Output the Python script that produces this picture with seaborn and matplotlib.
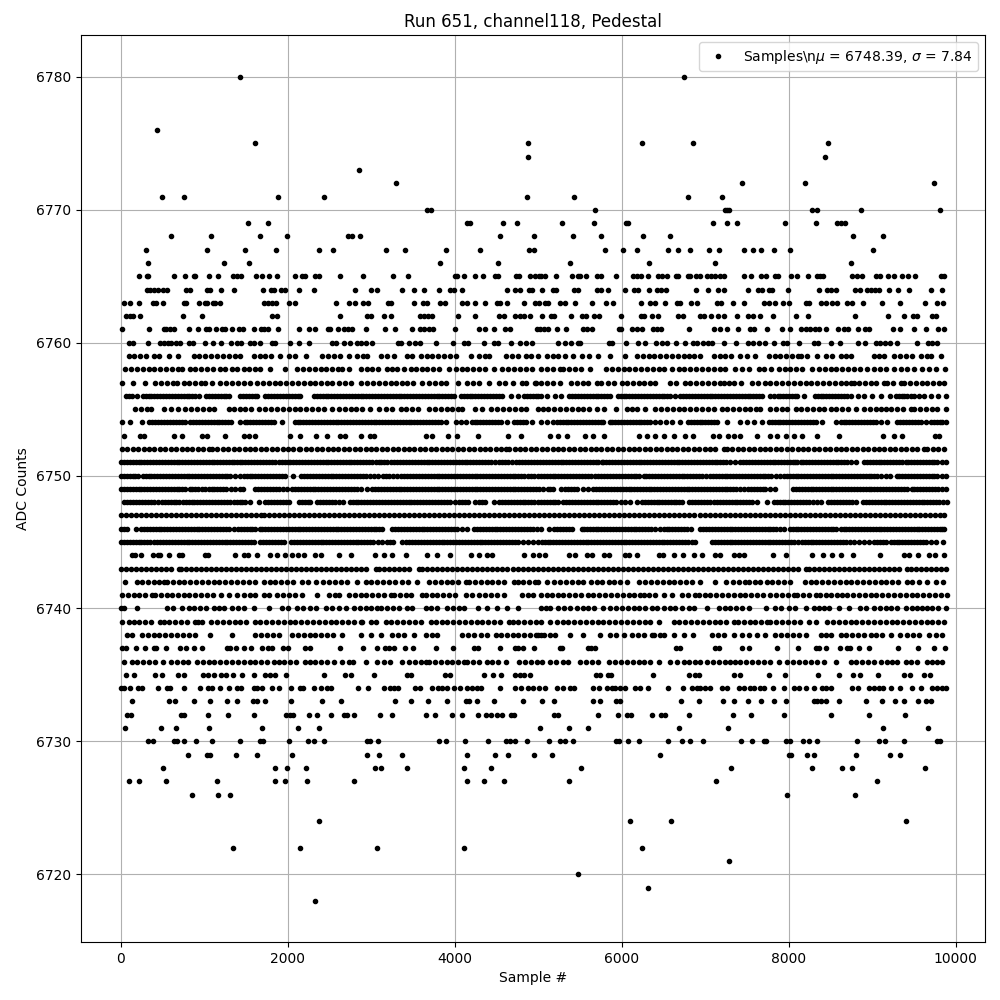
import matplotlib
matplotlib.use("Agg")
import matplotlib.pyplot as plt
import pandas as pd
import seaborn as sns

title = "Run 651, channel118, Pedestal"
xlabel = "Sample #"
ylabel = "ADC Counts"
legend_label = r"Samples\n$\mu$ = 6748.39, $\sigma$ = 7.84"

# Sample numbers, one list per ADC level
adc_6780 = [1422, 6740]
adc_6776 = [426]
adc_6775 = [1602, 4878, 6236, 6848, 8468]
adc_6774 = [4878, 8432]
adc_6773 = [2850]
adc_6772 = [3294, 7436, 8192, 9740]
adc_6771 = [486, 750, 1878, 2430, 4866, 5432, 6788, 7196]
adc_6770 = [3670, 3710, 5684, 7232, 7264, 7288, 8272, 8336, 8864, 9812]
adc_6769 = [1518, 1758, 4150, 4182, 4578, 4746, 5288, 5672, 6052, 6076, 7088, 7256, 7376, 7952, 8324, 8576, 8628, 8672]
adc_6768 = [594, 1074, 1662, 1986, 2718, 2766, 2862, 4542, 4952, 5420, 5756, 6248, 6572, 8768, 9128]
adc_6767 = [294, 1026, 1482, 1854, 2370, 2538, 3174, 3402, 3894, 4302, 4890, 4945, 5792, 6008, 6176, 6548, 6668, 6812, 7040, 7160, 7460, 7568, 7664, 7820, 8012, 9008]
adc_6766 = [318, 1230, 1530, 3822, 4518, 5384, 6320, 7112, 8744]
adc_6765 = [210, 306, 322, 630, 762, 870, 882, 1050, 1158, 1338, 1386, 1434, 1614, 1686, 1770, 1866, 2082, 2166, 2202, 2322, 2370, 2622, 2898, 3258, 3434, 4002, 4030, 4110, 4242, 4338, 4482, 4518, 4734, 4770, 4902, 4962, 5010, 5036, 5080, 5216, 5408, 5480, 5504, 5576, 5708, 5756, 5924, 6128, 6176, 6224, 6308, 6428, 6476, 6536, 6644, 6668, 6788, 6812, 6884, 6932, 7016, 7064, 7112, 7172, 7220, 7460, 7544, 7664, 7724, 7832, 7868, 8024, 8096, 8228, 8336, 8372, 8408, 8756, 8816, 8876, 9044, 9092, 9188, 9260, 9356, 9428, 9512, 9824, 9860]
adc_6764 = [306, 342, 390, 438, 498, 546, 774, 822, 1026, 1062, 1194, 1350, 1698, 1794, 1830, 1914, 1962, 2130, 2310, 2802, 2994, 3066, 3366, 3510, 3630, 3810, 3942, 3990, 4086, 4626, 4722, 4782, 4890, 4926, 5040, 5180, 5216, 5432, 5480, 5708, 5756, 5828, 6032, 6140, 6188, 6320, 6416, 6464, 6524, 6884, 7028, 7148, 7220, 7508, 7628, 7676, 7760, 7796, 7988, 8360, 8456, 8504, 8564, 8792, 8852, 8936, 8984, 9032, 9080, 9200, 9308, 9440, 9704, 9836]
adc_6763 = [42, 102, 210, 378, 414, 498, 750, 774, 930, 1002, 1026, 1098, 1122, 1182, 1710, 1758, 1806, 1854, 2010, 2082, 2574, 2730, 2802, 2898, 2958, 3198, 3234, 3510, 3618, 3666, 3822, 3882, 4086, 4146, 4242, 4362, 4506, 4542, 4626, 4830, 4962, 5012, 5084, 5120, 5264, 5324, 5444, 5648, 5804, 5888, 6224, 6332, 6392, 6512, 6656, 6692, 6824, 6896, 7136, 7184, 7328, 7460, 7700, 7760, 7832, 7928, 8000, 8204, 8240, 8384, 8444, 8516, 8576, 8696, 8756, 8888, 9116, 9332, 9632, 9776, 9848]
adc_6762 = [66, 102, 138, 222, 738, 966, 1806, 1866, 2622, 2946, 2994, 3150, 3234, 3582, 3630, 3678, 3726, 4038, 4242, 4530, 4590, 4722, 4782, 4830, 4900, 5040, 5156, 5192, 5396, 5528, 5576, 5672, 5732, 5984, 6224, 6260, 6356, 6428, 6668, 6728, 6932, 6980, 7064, 7148, 7220, 7376, 7508, 7568, 7652, 7808, 8084, 8228, 8792, 9188, 9380, 9488, 9536, 9716, 9764]
adc_6761 = [18, 330, 510, 534, 582, 630, 810, 918, 1014, 1050, 1134, 1206, 1242, 1326, 1410, 1458, 1590, 1674, 1710, 1758, 1878, 2130, 2250, 2322, 2478, 2502, 2598, 2670, 2718, 2766, 2934, 3162, 3282, 3486, 3582, 3630, 3690, 3738, 4002, 4290, 4362, 4470, 4602, 4662, 4986, 5024, 5072, 5120, 5228, 5336, 5540, 5588, 5648, 5960, 5984, 6116, 6176, 6236, 6368, 6416, 6464, 6800, 7100, 7172, 7256, 7388, 7532, 7580, 7736, 7916, 8012, 8144, 8204, 8252, 8312, 8360, 8444, 8588, 8660, 8708, 8828, 8912, 8960, 9248, 9332, 9500, 9644, 9788, 9860]
adc_6760 = [90, 138, 318, 462, 510, 558, 594, 654, 702, 810, 858, 1002, 1098, 1194, 1314, 1386, 1434, 1542, 1590, 1662, 1806, 1842, 2022, 2130, 2250, 2526, 2574, 2670, 2742, 2826, 2874, 2934, 3006, 3318, 3354, 3450, 3522, 3582, 3774, 3978, 4110, 4158, 4350, 4470, 4518, 4674, 4782, 4854, 4926, 5240, 5324, 5396, 5480, 5504, 5840, 5876, 6044, 6188, 6272, 6404, 6476, 6536, 6644, 6752, 6848, 6896, 6968, 7028, 7076, 7220, 7364, 7508, 7568, 7640, 7712, 7820, 7928, 7976, 8120, 8300, 8348, 8504, 8612, 8828, 8912, 9044, 9092, 9152, 9212, 9296, 9536, 9668, 9716, 9776]
adc_6759 = [90, 160, 230, 300, 390, 450, 570, 678, 870, 940, 1010, 1080, 1150, 1220, 1290, 1360, 1430, 1590, 1660, 1730, 1800, 1910, 2010, 2082, 2214, 2410, 2480, 2550, 2620, 2730, 2830, 2900, 2950, 3110, 3190, 3270, 3430, 3490, 3590, 3660, 3730, 3800, 3870, 3940, 4010, 4190, 4290, 4360, 4410, 4610, 4680, 4750, 4850, 4910, 4990, 5100, 5170, 5240, 5320, 5420, 5520, 5612, 5720, 5860, 6032, 6180, 6250, 6320, 6390, 6460, 6530, 6600, 6670, 6740, 6810, 6860, 6940, 7100, 7170, 7240, 7310, 7420, 7500, 7592, 7760, 7830, 7900, 7970, 8040, 8110, 8140, 8220, 8340, 8440, 8520, 8620, 8680, 8740, 9020, 9080, 9140, 9260, 9330, 9400, 9470, 9580, 9660, 9700, 9828]
adc_6758 = [50, 120, 190, 260, 330, 400, 470, 540, 610, 680, 730, 822, 892, 962, 1032, 1102, 1190, 1250, 1330, 1390, 1470, 1530, 1600, 1670, 1790, 1970, 2110, 2180, 2250, 2320, 2390, 2460, 2530, 2600, 2650, 2730, 2870, 2950, 3010, 3080, 3190, 3250, 3310, 3390, 3470, 3530, 3600, 3670, 3740, 3810, 3930, 4010, 4080, 4150, 4220, 4290, 4360, 4470, 4570, 4640, 4710, 4780, 4850, 4920, 5030, 5100, 5170, 5260, 5300, 5370, 5440, 5510, 5620, 5812, 5880, 5950, 6020, 6090, 6160, 6230, 6300, 6370, 6440, 6510, 6600, 6680, 6740, 6820, 6890, 6960, 7030, 7100, 7170, 7240, 7360, 7440, 7520, 7640, 7700, 7788, 7880, 7950, 8020, 8090, 8160, 8280, 8360, 8430, 8500, 8570, 8640, 8710, 8780, 8850, 8940, 9020, 9090, 9160, 9260, 9340, 9420, 9500, 9600, 9680, 9768, 9872]
adc_6757 = [18, 138, 282, 410, 480, 550, 620, 670, 750, 810, 890, 960, 1010, 1090, 1190, 1260, 1330, 1400, 1470, 1550, 1630, 1700, 1770, 1840, 1910, 1980, 2050, 2120, 2190, 2260, 2330, 2400, 2470, 2530, 2610, 2680, 2750, 2870, 2950, 3020, 3090, 3160, 3230, 3300, 3370, 3430, 3500, 3610, 3690, 3760, 3830, 3890, 4038, 4150, 4220, 4290, 4410, 4530, 4600, 4690, 4798, 4850, 4970, 5030, 4960, 5100, 5170, 5260, 5388, 5460, 5530, 5600, 5700, 5752, 5830, 5900, 6000, 6060, 6130, 6200, 6270, 6340, 6400, 6580, 6650, 6760, 6820, 6890, 6960, 7030, 7100, 7170, 7220, 7280, 7340, 7428, 7560, 7630, 7720, 7780, 7850, 7920, 7990, 8060, 8130, 8200, 8270, 8340, 8410, 8480, 8550, 8620, 8690, 8740, 8780, 8840, 8910, 8980, 9050, 9140, 9180, 9250, 9340, 9380, 9450, 9520, 9590, 9660, 9730, 9800, 9860]
adc_6756 = [62, 130, 190, 260, 330, 400, 470, 540, 610, 680, 750, 820, 890, 930, 1022, 1092, 1162, 1232, 1290, 1430, 1500, 1570, 1630, 1730, 1800, 1870, 1940, 2010, 2080, 2150, 2310, 2380, 2450, 2520, 2590, 2660, 2730, 2800, 2870, 2940, 3010, 3080, 3150, 3220, 3290, 3360, 3430, 3500, 3570, 3640, 3710, 3780, 3850, 3920, 3990, 4070, 4140, 4210, 4280, 4350, 4420, 4490, 4560, 4670, 4750, 4830, 4900, 4970, 5030, 5100, 5200, 5272, 5372, 5440, 5510, 5580, 5650, 5720, 5790, 5860, 5948, 6020, 6090, 6160, 6230, 6300, 6370, 6440, 6510, 6580, 6640, 6700, 6770, 6840, 6910, 6980, 7050, 7120, 7190, 7260, 7330, 7400, 7470, 7540, 7610, 7680, 7780, 7828, 7900, 7970, 8040, 8100, 8180, 8308, 8380, 8450, 8520, 8590, 8660, 8740, 8828, 8900, 9000, 9100, 9212, 9280, 9350, 9420, 9500, 9560, 9620, 9700, 9790, 9880]
adc_6755 = [170, 240, 310, 360, 520, 600, 680, 770, 840, 910, 980, 1050, 1110, 1290, 1350, 1420, 1490, 1560, 1650, 1730, 1800, 1870, 1940, 2010, 2080, 2150, 2220, 2290, 2360, 2430, 2530, 2610, 2680, 2750, 2820, 2890, 2980, 3090, 3170, 3250, 3350, 3420, 3490, 3560, 3690, 3760, 3830, 3900, 3970, 4040, 4090, 4238, 4320, 4438, 4510, 4580, 4650, 4720, 4790, 4850, 4990, 5050, 5120, 5190, 5260, 5330, 5400, 5470, 5540, 5610, 5700, 5788, 5932, 6060, 6120, 6180, 6272, 6400, 6470, 6540, 6610, 6680, 6750, 6820, 6890, 6960, 7030, 7100, 7200, 7260, 7330, 7400, 7470, 7540, 7610, 7660, 7780, 7850, 7920, 7980, 8080, 8150, 8220, 8290, 8360, 8420, 8500, 8570, 8640, 8710, 8800, 8900, 8970, 9040, 9100, 9170, 9220, 9300, 9370, 9460, 9500, 9570, 9640, 9710, 9780, 9880]
adc_6754 = [18, 110, 250, 340, 410, 480, 550, 620, 690, 770, 830, 900, 970, 1040, 1110, 1180, 1250, 1320, 1430, 1480, 1550, 1620, 1690, 1760, 1830, 1930, 2080, 2150, 2220, 2290, 2360, 2430, 2500, 2570, 2640, 2710, 2780, 2850, 2920, 2990, 3060, 3130, 3200, 3270, 3340, 3410, 3480, 3550, 3620, 3690, 3760, 3830, 3890, 4010, 4070, 4130, 4202, 4270, 4340, 4410, 4480, 4550, 4630, 4710, 4780, 4850, 4920, 5030, 5100, 5180, 5220, 5290, 5360, 5430, 5500, 5570, 5640, 5710, 5780, 5852, 5920, 5990, 6060, 6130, 6200, 6270, 6340, 6400, 6460, 6530, 6600, 6700, 6788, 6860, 6930, 7000, 7070, 7140, 7260, 7412, 7500, 7580, 7680, 7760, 7830, 7900, 7970, 8040, 8110, 8180, 8250, 8320, 8400, 8560, 8620, 8690, 8760, 8830, 8900, 8970, 9040, 9100, 9180, 9300, 9370, 9440, 9510, 9580, 9640, 9700, 9770, 9840, 9880]
adc_6753 = [38, 230, 278, 638, 730, 970, 1030, 1250, 1470, 1530, 1610, 2030, 2150, 2342, 2470, 2622, 2678, 2878, 2982, 3030, 3650, 3730, 3918, 4026, 4282, 4638, 4790, 5140, 5240, 5340, 5560, 5660, 5788, 6200, 6300, 6400, 6500, 6620, 6752, 6848, 7088, 7160, 7268, 7340, 7420, 7620, 7772, 7860, 7968, 8060, 8160, 8340, 8600, 9128, 9260, 9360, 9748, 9800]
adc_6752 = [10, 75, 140, 205, 270, 335, 400, 465, 530, 595, 660, 725, 790, 855, 920, 985, 1050, 1090, 1155, 1220, 1285, 1350, 1415, 1480, 1545, 1610, 1675, 1740, 1805, 1870, 1935, 2000, 2065, 2130, 2150, 2215, 2280, 2345, 2410, 2475, 2540, 2605, 2670, 2735, 2800, 2865, 2930, 2995, 3060, 3125, 3190, 3255, 3320, 3385, 3450, 3515, 3580, 3645, 3710, 3775, 3840, 3905, 3970, 4035, 4100, 4165, 4230, 4295, 4360, 4425, 4490, 4555, 4610, 4650, 4715, 4780, 4845, 4910, 4975, 5040, 5105, 5170, 5235, 5300, 5365, 5430, 5495, 5560, 5625, 5690, 5755, 5820, 5885, 5950, 6015, 6080, 6145, 6210, 6275, 6340, 6405, 6470, 6535, 6600, 6665, 6730, 6795, 6860, 6925, 6990, 7055, 7120, 7220, 7260, 7325, 7390, 7455, 7520, 7585, 7650, 7715, 7780, 7845, 7910, 7975, 8040, 8105, 8170, 8235, 8300, 8365, 8430, 8495, 8560, 8625, 8690, 8755, 8820, 8885, 8950, 9015, 9080, 9145, 9210, 9275, 9340, 9405, 9470, 9535, 9620, 9660, 9725, 9790, 9860]
adc_6751 = [0, 70, 140, 210, 280, 350, 420, 490, 560, 630, 700, 770, 840, 910, 980, 1050, 1120, 1190, 1260, 1330, 1350, 1420, 1490, 1560, 1630, 1700, 1770, 1850, 1890, 1960, 2030, 2100, 2170, 2240, 2310, 2380, 2450, 2520, 2590, 2660, 2730, 2790, 2830, 2900, 2970, 3010, 3050, 3120, 3190, 3240, 3310, 3380, 3450, 3520, 3590, 3660, 3730, 3800, 3870, 3940, 4010, 4080, 4150, 4220, 4290, 4360, 4430, 4530, 4570, 4640, 4730, 4770, 4840, 4910, 4980, 5060, 5090, 5160, 5230, 5300, 5370, 5440, 5510, 5580, 5650, 5720, 5760, 5780, 5850, 5920, 5990, 6060, 6130, 6200, 6270, 6340, 6410, 6480, 6550, 6620, 6690, 6760, 6830, 6900, 6970, 7040, 7110, 7180, 7250, 7360, 7420, 7490, 7560, 7630, 7700, 7770, 7840, 7910, 7980, 8050, 8100, 8140, 8210, 8280, 8350, 8420, 8490, 8560, 8630, 8700, 8800, 8900, 8970, 9040, 9110, 9180, 9250, 9320, 9400, 9430, 9500, 9570, 9640, 9710, 9780, 9880]
adc_6750 = [0, 70, 140, 200, 260, 330, 400, 470, 540, 610, 680, 750, 820, 890, 960, 1030, 1100, 1170, 1240, 1310, 1430, 1470, 1540, 1610, 1680, 1750, 1820, 1890, 1970, 2060, 2160, 2230, 2300, 2370, 2440, 2510, 2580, 2650, 2720, 2790, 2860, 2930, 3030, 3080, 3140, 3210, 3310, 3360, 3430, 3500, 3570, 3640, 3710, 3780, 3850, 3920, 3990, 4060, 4130, 4200, 4270, 4340, 4410, 4480, 4550, 4620, 4690, 4760, 4830, 4880, 4950, 5030, 5100, 5170, 5240, 5310, 5380, 5450, 5520, 5590, 5680, 5720, 5790, 5860, 5930, 6000, 6070, 6140, 6200, 6260, 6330, 6400, 6470, 6540, 6610, 6680, 6750, 6820, 6890, 6960, 7060, 7090, 7160, 7230, 7300, 7370, 7440, 7510, 7580, 7650, 7720, 7790, 7900, 7940, 8010, 8080, 8150, 8220, 8290, 8360, 8430, 8500, 8570, 8640, 8710, 8780, 8850, 8920, 8990, 9060, 9160, 9210, 9290, 9360, 9430, 9500, 9570, 9640, 9710, 9780, 9880]
adc_6749 = [0, 70, 140, 210, 280, 350, 420, 490, 560, 630, 700, 770, 830, 850, 920, 1010, 1050, 1120, 1190, 1260, 1370, 1420, 1460, 1610, 1680, 1750, 1820, 1890, 1990, 2050, 2120, 2190, 2260, 2330, 2400, 2470, 2540, 2610, 2680, 2750, 2830, 2880, 2950, 3010, 3080, 3150, 3220, 3290, 3360, 3430, 3500, 3570, 3640, 3710, 3780, 3850, 3920, 3990, 4060, 4130, 4200, 4270, 4340, 4410, 4480, 4550, 4620, 4690, 4760, 4830, 4900, 4970, 5050, 5110, 5180, 5270, 5320, 5390, 5460, 5540, 5600, 5660, 5730, 5800, 5870, 5940, 6010, 6080, 6150, 6220, 6290, 6320, 6390, 6460, 6530, 6600, 6670, 6740, 6810, 6880, 6950, 7020, 7090, 7160, 7230, 7300, 7370, 7460, 7510, 7580, 7650, 7720, 7840, 8050, 8120, 8190, 8260, 8330, 8400, 8430, 8500, 8570, 8640, 8710, 8780, 8850, 8920, 8990, 9060, 9130, 9200, 9270, 9340, 9420, 9470, 9540, 9610, 9680, 9720, 9790, 9880]
adc_6748 = [40, 110, 180, 250, 320, 390, 440, 490, 560, 630, 690, 740, 810, 880, 950, 1020, 1090, 1160, 1230, 1310, 1350, 1420, 1490, 1550, 1650, 1730, 1800, 1870, 1940, 2010, 2130, 2200, 2270, 2350, 2420, 2490, 2560, 2660, 2740, 2810, 2880, 2950, 3020, 3090, 3160, 3230, 3270, 3340, 3410, 3480, 3550, 3620, 3690, 3730, 3800, 3870, 3940, 4050, 4090, 4160, 4240, 4290, 4360, 4470, 4530, 4600, 4670, 4740, 4810, 4880, 4950, 5030, 5100, 5170, 5240, 5300, 5370, 5440, 5510, 5580, 5650, 5720, 5790, 5860, 5930, 6040, 6100, 6180, 6240, 6310, 6380, 6450, 6520, 6590, 6650, 6720, 6810, 6880, 6950, 7020, 7100, 7140, 7210, 7280, 7350, 7420, 7490, 7560, 7620, 7740, 7820, 7890, 7960, 8030, 8100, 8170, 8240, 8340, 8390, 8470, 8540, 8610, 8680, 8760, 8800, 8890, 8960, 9030, 9100, 9170, 9240, 9310, 9380, 9450, 9520, 9590, 9660, 9730, 9800, 9890]
adc_6747 = [0, 60, 120, 180, 240, 300, 360, 420, 480, 540, 600, 660, 720, 780, 840, 900, 960, 1020, 1080, 1140, 1200, 1260, 1320, 1380, 1440, 1500, 1560, 1620, 1680, 1710, 1770, 1830, 1890, 1950, 2010, 2070, 2130, 2190, 2250, 2310, 2370, 2430, 2490, 2550, 2610, 2670, 2730, 2790, 2850, 2910, 2970, 3030, 3090, 3150, 3210, 3270, 3330, 3390, 3450, 3510, 3570, 3630, 3690, 3750, 3810, 3870, 3930, 3990, 4050, 4110, 4170, 4230, 4290, 4350, 4410, 4470, 4530, 4590, 4650, 4710, 4770, 4830, 4890, 4950, 5010, 5070, 5130, 5190, 5250, 5310, 5370, 5430, 5490, 5550, 5610, 5670, 5730, 5790, 5850, 5910, 5970, 6030, 6090, 6150, 6210, 6270, 6330, 6390, 6450, 6510, 6570, 6630, 6690, 6750, 6810, 6870, 6930, 6990, 7050, 7110, 7170, 7230, 7290, 7350, 7410, 7470, 7530, 7590, 7650, 7710, 7770, 7830, 7890, 7950, 8010, 8070, 8130, 8190, 8250, 8310, 8370, 8430, 8490, 8550, 8610, 8670, 8730, 8790, 8850, 8910, 8970, 9030, 9090, 9150, 9210, 9270, 9330, 9390, 9450, 9510, 9570, 9630, 9690, 9750, 9810, 9860]
adc_6746 = [0, 70, 180, 240, 310, 380, 450, 520, 590, 660, 730, 800, 870, 940, 1010, 1080, 1150, 1220, 1290, 1350, 1400, 1470, 1540, 1610, 1660, 1730, 1800, 1870, 1940, 2010, 2080, 2150, 2220, 2290, 2360, 2430, 2500, 2570, 2640, 2710, 2780, 2850, 2920, 2990, 3060, 3130, 3250, 3320, 3390, 3460, 3530, 3600, 3670, 3740, 3810, 3880, 3950, 4020, 4150, 4230, 4300, 4370, 4440, 4510, 4580, 4650, 4720, 4790, 4860, 4930, 5030, 5130, 5190, 5260, 5330, 5400, 5520, 5580, 5650, 5720, 5790, 5860, 5930, 6000, 6070, 6140, 6210, 6280, 6350, 6460, 6500, 6570, 6640, 6710, 6780, 6830, 6940, 7010, 7080, 7150, 7220, 7290, 7360, 7430, 7500, 7570, 7640, 7710, 7780, 7850, 7940, 8010, 8080, 8150, 8220, 8290, 8360, 8430, 8500, 8560, 8620, 8690, 8760, 8830, 8900, 8970, 9040, 9110, 9180, 9250, 9320, 9390, 9460, 9530, 9600, 9670, 9740, 9810, 9860]
adc_6745 = [0, 70, 140, 210, 280, 350, 400, 470, 540, 610, 680, 750, 820, 890, 960, 1030, 1100, 1170, 1240, 1310, 1380, 1450, 1520, 1590, 1670, 1740, 1810, 1880, 1950, 2040, 2110, 2180, 2250, 2320, 2390, 2460, 2530, 2600, 2670, 2740, 2810, 2880, 2950, 3020, 3130, 3190, 3260, 3370, 3420, 3490, 3560, 3630, 3700, 3770, 3840, 3910, 3980, 4050, 4120, 4190, 4260, 4330, 4400, 4470, 4540, 4610, 4680, 4750, 4870, 4930, 4990, 5040, 5110, 5180, 5250, 5320, 5390, 5460, 5530, 5600, 5670, 5740, 5810, 5880, 5950, 6020, 6090, 6160, 6230, 6300, 6370, 6440, 6510, 6580, 6650, 6720, 6790, 6880, 7080, 7150, 7220, 7290, 7360, 7430, 7500, 7570, 7640, 7710, 7780, 7850, 7920, 7990, 8060, 8160, 8190, 8260, 8330, 8400, 8470, 8540, 8610, 8680, 8780, 8840, 8960, 9020, 9090, 9160, 9220, 9290, 9360, 9430, 9500, 9570, 9640, 9760, 9850]
adc_6744 = [130, 170, 240, 380, 440, 470, 580, 690, 730, 1010, 1040, 1360, 1470, 1520, 1630, 1780, 1870, 1970, 2050, 2120, 2190, 2330, 2390, 2610, 2750, 3040, 3150, 3250, 3410, 3660, 3780, 3940, 4190, 4290, 4390, 4450, 4830, 4930, 5010, 5080, 5370, 5440, 5580, 5640, 5790, 5840, 6040, 6080, 6180, 6440, 6490, 6630, 6730, 6860, 6960, 7120, 7180, 7340, 7400, 7460, 7810, 7970, 8280, 8410, 8520, 8620, 8770, 9090, 9380, 9440, 9550, 9680, 9750, 9860]
adc_6743 = [0, 60, 120, 180, 240, 300, 360, 420, 480, 540, 600, 690, 720, 780, 840, 900, 960, 1020, 1080, 1140, 1200, 1260, 1320, 1380, 1440, 1500, 1560, 1620, 1680, 1740, 1800, 1860, 1920, 1980, 2040, 2100, 2160, 2220, 2280, 2340, 2400, 2460, 2520, 2580, 2640, 2700, 2760, 2820, 2880, 2940, 3050, 3090, 3150, 3210, 3270, 3330, 3390, 3450, 3570, 3610, 3670, 3730, 3790, 3850, 3910, 3970, 4030, 4090, 4150, 4210, 4270, 4330, 4390, 4450, 4510, 4570, 4630, 4690, 4750, 4810, 4870, 4930, 4990, 5050, 5110, 5170, 5230, 5290, 5350, 5410, 5470, 5530, 5590, 5650, 5710, 5770, 5830, 5890, 5950, 6010, 6070, 6130, 6190, 6250, 6310, 6370, 6430, 6490, 6550, 6610, 6670, 6730, 6790, 6850, 6910, 6970, 7030, 7090, 7150, 7210, 7270, 7330, 7390, 7450, 7510, 7570, 7630, 7690, 7750, 7810, 7870, 7930, 7990, 8050, 8110, 8200, 8240, 8300, 8360, 8420, 8480, 8540, 8600, 8660, 8720, 8780, 8840, 8900, 8960, 9020, 9080, 9140, 9200, 9260, 9320, 9420, 9460, 9520, 9580, 9640, 9700, 9760, 9820, 9880]
adc_6742 = [50, 190, 250, 320, 390, 450, 510, 550, 620, 690, 760, 830, 900, 970, 1040, 1110, 1180, 1250, 1320, 1390, 1460, 1530, 1600, 1710, 1780, 1850, 1920, 1990, 2060, 2170, 2240, 2340, 2420, 2490, 2560, 2630, 2710, 2830, 2930, 3000, 3070, 3140, 3210, 3280, 3370, 3440, 3550, 3690, 3760, 3830, 3900, 3970, 4040, 4130, 4170, 4240, 4310, 4380, 4450, 4520, 4590, 4710, 4750, 4820, 4890, 4960, 5000, 5100, 5190, 5260, 5330, 5400, 5480, 5540, 5630, 5700, 5760, 5840, 5910, 5980, 6060, 6210, 6280, 6350, 6420, 6490, 6560, 6620, 6700, 6770, 6840, 6930, 7110, 7250, 7330, 7400, 7470, 7520, 7590, 7660, 7740, 7800, 7870, 7940, 8020, 8190, 8260, 8330, 8400, 8470, 8540, 8610, 8680, 8750, 8820, 8890, 8960, 9030, 9100, 9170, 9240, 9310, 9420, 9480, 9560, 9660, 9760, 9850]
adc_6741 = [10, 80, 150, 220, 290, 370, 410, 480, 550, 610, 680, 750, 820, 890, 960, 1030, 1100, 1200, 1290, 1390, 1470, 1540, 1610, 1710, 1770, 1870, 1940, 2010, 2080, 2170, 2350, 2490, 2560, 2610, 2730, 2800, 2870, 2940, 3010, 3080, 3150, 3230, 3270, 3340, 3410, 3480, 3610, 3650, 3720, 3790, 3860, 3930, 4000, 4130, 4210, 4290, 4360, 4430, 4500, 4590, 4800, 4870, 4940, 5030, 5100, 5160, 5230, 5300, 5370, 5440, 5510, 5600, 5660, 5730, 5800, 5870, 5940, 6010, 6080, 6150, 6220, 6260, 6330, 6400, 6500, 6600, 6720, 6790, 6880, 6920, 6990, 7060, 7130, 7200, 7270, 7340, 7410, 7480, 7550, 7620, 7690, 7780, 7850, 7920, 7990, 8060, 8100, 8170, 8240, 8320, 8370, 8440, 8510, 8580, 8640, 8700, 8770, 8840, 8910, 8980, 9050, 9120, 9190, 9260, 9330, 9400, 9470, 9540, 9610, 9680, 9750, 9820, 9900]
adc_6740 = [0, 40, 190, 550, 620, 730, 810, 880, 950, 1020, 1110, 1180, 1230, 1330, 1400, 1470, 1590, 1770, 1930, 2000, 2110, 2180, 2270, 2340, 2450, 2530, 2610, 2700, 2790, 2860, 2930, 3000, 3070, 3120, 3190, 3260, 3330, 3430, 3490, 3650, 3710, 3780, 3910, 3980, 4050, 4110, 4280, 4390, 4510, 4630, 4750, 5030, 5090, 5140, 5240, 5310, 5380, 5460, 5530, 5600, 5670, 5780, 5860, 5930, 6000, 6070, 6140, 6210, 6280, 6360, 6420, 6500, 6580, 6640, 6720, 6800, 6860, 7020, 7160, 7230, 7300, 7370, 7440, 7520, 7730, 7840, 7910, 8000, 8070, 8200, 8300, 8360, 8420, 8480, 8600, 8720, 8850, 8920, 9020, 9090, 9160, 9220, 9300, 9400, 9470, 9540, 9600, 9660, 9720, 9790, 9880]
adc_6739 = [10, 90, 150, 220, 290, 360, 470, 510, 580, 650, 720, 790, 890, 920, 970, 1080, 1150, 1220, 1290, 1360, 1430, 1500, 1610, 1670, 1740, 1810, 1880, 1950, 2020, 2090, 2160, 2230, 2300, 2370, 2440, 2510, 2580, 2650, 2720, 2790, 2870, 2890, 2990, 3060, 3170, 3240, 3310, 3380, 3450, 3520, 3590, 3710, 3770, 3840, 3910, 3980, 4050, 4120, 4190, 4260, 4330, 4400, 4470, 4540, 4650, 4690, 4760, 4830, 4900, 4970, 5030, 5140, 5220, 5290, 5360, 5430, 5500, 5570, 5640, 5720, 5780, 5850, 5920, 5990, 6060, 6130, 6200, 6280, 6340, 6440, 6620, 6690, 6760, 6830, 6900, 6970, 7040, 7110, 7180, 7250, 7340, 7390, 7460, 7530, 7600, 7670, 7740, 7780, 7850, 7920, 7990, 8060, 8130, 8240, 8320, 8460, 8530, 8600, 8670, 8740, 8810, 8880, 8950, 9020, 9090, 9160, 9230, 9300, 9370, 9440, 9510, 9580, 9650, 9720, 9790, 9860]
adc_6738 = [70, 130, 250, 320, 390, 460, 530, 600, 670, 740, 810, 890, 1070, 1330, 1610, 1680, 1750, 1820, 1890, 2050, 2120, 2190, 2260, 2330, 2400, 2470, 2540, 2650, 2870, 2990, 3110, 3250, 3320, 3390, 3510, 3650, 3720, 3790, 4090, 4160, 4230, 4310, 4390, 4490, 4550, 4630, 4690, 4760, 4830, 4900, 4970, 5030, 5000, 5070, 5140, 5200, 5380, 5540, 5740, 5860, 5930, 6020, 6120, 6190, 6260, 6360, 6390, 6460, 6500, 6620, 6740, 6850, 7080, 7150, 7220, 7340, 7440, 7520, 7620, 7720, 7840, 7910, 7980, 8050, 8120, 8200, 8380, 8440, 8500, 8620, 8690, 8760, 8830, 8900, 8980, 9050, 9120, 9220, 9330, 9420, 9490, 9560, 9680, 9760, 9840]
adc_6737 = [10, 62, 182, 282, 390, 422, 542, 702, 782, 870, 966, 1270, 1302, 1382, 1470, 1554, 1690, 1762, 1810, 1942, 1998, 2210, 2262, 2622, 2898, 3070, 3162, 3210, 3270, 3402, 3498, 3774, 3978, 4230, 4278, 4542, 4722, 4750, 4818, 4952, 5260, 5288, 5600, 5632, 5684, 6652, 6700, 7112, 7160, 7436, 7520, 7856, 8108, 8320, 8360, 8444, 8612, 8700, 8732, 8840, 8960, 9308, 9552, 9740, 9872]
adc_6736 = [40, 130, 190, 260, 330, 410, 500, 600, 670, 740, 800, 910, 980, 1050, 1120, 1190, 1260, 1330, 1400, 1470, 1540, 1610, 1680, 1750, 1830, 1890, 1950, 2030, 2100, 2200, 2260, 2330, 2400, 2470, 2550, 2650, 2730, 2780, 2930, 3070, 3150, 3220, 3370, 3450, 3520, 3590, 3650, 3690, 3760, 3830, 3900, 3970, 4040, 4110, 4150, 4220, 4290, 4390, 4450, 4520, 4610, 4770, 4840, 4910, 4980, 5040, 5140, 5210, 5300, 5350, 5500, 5570, 5640, 5710, 5840, 5920, 5990, 6060, 6130, 6200, 6270, 6340, 6440, 6580, 6660, 6740, 6810, 6880, 6940, 7020, 7090, 7160, 7230, 7300, 7350, 7420, 7490, 7560, 7630, 7700, 7770, 7880, 7980, 8050, 8120, 8190, 8260, 8340, 8420, 8560, 8740, 8810, 8880, 8950, 9020, 9100, 9180, 9240, 9300, 9400, 9460, 9540, 9660, 9720, 9780, 9830]
adc_6735 = [55, 150, 410, 490, 680, 760, 980, 1040, 1110, 1200, 1260, 1340, 1450, 1590, 1730, 1790, 1850, 1975, 2430, 2680, 2755, 3030, 3430, 3480, 3880, 3940, 4350, 4460, 4555, 4720, 4780, 4830, 4900, 5690, 5740, 5830, 5870, 6370, 6810, 6880, 6920, 7340, 7410, 7760, 7950, 8350, 8600, 8770, 8850, 9070, 9380, 9450, 9620, 9690]
adc_6734 = [0, 38, 110, 200, 250, 440, 550, 590, 750, 950, 1040, 1090, 1190, 1290, 1390, 1440, 1590, 1630, 1690, 1810, 1890, 2034, 2150, 2182, 2310, 2390, 2470, 2510, 2838, 2958, 3150, 3220, 3270, 3320, 3522, 3582, 3726, 3798, 3850, 3910, 3990, 4062, 4150, 4210, 4270, 4310, 4542, 4722, 4790, 4870, 4940, 5010, 5080, 5220, 5300, 5380, 5432, 5660, 5732, 5820, 5880, 5920, 5972, 6040, 6160, 6220, 6308, 6556, 6728, 6840, 6900, 6940, 7000, 7060, 7200, 7260, 7400, 7468, 7540, 7588, 7652, 7708, 7808, 7940, 8060, 8120, 8200, 8300, 8400, 8450, 8500, 8760, 8828, 8960, 9020, 9080, 9132, 9228, 9328, 9480, 9580, 9720, 9780, 9840, 9880]
adc_6733 = [130, 570, 642, 870, 1062, 1266, 1386, 1578, 1630, 1722, 2034, 2406, 2634, 3282, 3478, 3678, 3906, 4134, 4170, 4266, 4470, 4818, 5040, 5192, 5660, 5744, 5932, 5972, 6704, 6920, 7208, 7340, 7508, 7664, 7820, 7964, 8300, 8340, 8384, 8444, 8600, 8924, 9116, 9272, 9380, 9548, 9644, 9704]
adc_6732 = [78, 118, 722, 758, 1038, 1278, 1590, 1974, 2030, 2062, 2250, 2350, 2514, 2670, 2710, 2790, 3102, 3246, 3654, 3762, 3966, 4086, 4278, 4374, 4438, 4502, 4566, 4670, 4710, 5188, 5240, 5720, 5948, 6056, 6108, 6356, 6472, 6520, 6800, 7328, 7544, 7940, 8504, 8960, 9392]
adc_6731 = [54, 474, 654, 1050, 1686, 2118, 2370, 5024, 5372, 5600, 6680, 7268, 9128, 9668]
adc_6730 = [318, 378, 630, 670, 750, 894, 1086, 1422, 1670, 1698, 2010, 2238, 2318, 2430, 2950, 2982, 3078, 3810, 3894, 4122, 4398, 4610, 4662, 4722, 4866, 5132, 5264, 5324, 5420, 5924, 5960, 6072, 6200, 6548, 6716, 6812, 6968, 7424, 7556, 7700, 7724, 7964, 8012, 8168, 8240, 8336, 8816, 9080, 9152, 9380, 9776, 9812]
adc_6729 = [798, 1026, 1062, 1374, 1626, 2046, 2946, 3090, 3366, 4146, 4482, 4638, 4952, 5168, 6452, 8000, 8024, 8216, 8300, 8804, 9212, 9332]
adc_6728 = [498, 1842, 1986, 2214, 3042, 3114, 3426, 4110, 4434, 5516, 7304, 8276, 8636, 8756, 9632]
adc_6727 = [90, 210, 534, 1146, 1842, 1962, 2226, 2790, 4146, 4350, 4590, 5372, 7124, 9056]
adc_6726 = [846, 1158, 1302, 7976, 8792]
adc_6724 = [2370, 6092, 6584, 9404]
adc_6722 = [1338, 2142, 3066, 4110, 6236]
adc_6721 = [7280]
adc_6720 = [5480]
adc_6719 = [6308]
adc_6718 = [2322]

# Further samples inside the solid runs of the busiest levels
more_6751 = [35, 105, 175, 245, 315, 385, 455, 525, 595, 665, 735, 805, 875, 945, 1015, 1085, 1155, 1225, 1295, 1385, 1455, 1525, 1595, 1665, 1735, 1810, 1925, 1995, 2065, 2135, 2205, 2275, 2345, 2415, 2485, 2555, 2625, 2695, 2760, 2865, 2935, 3085, 3155, 3275, 3345, 3415, 3485, 3555, 3625, 3695, 3765, 3835, 3905, 3975, 4045, 4115, 4185, 4255, 4325, 4395, 4480, 4605, 4685, 4805, 4875, 4945, 5020, 5125, 5195, 5265, 5335, 5405, 5475, 5545, 5615, 5685, 5815, 5885, 5955, 6025, 6095, 6165, 6235, 6305, 6375, 6445, 6515, 6585, 6655, 6725, 6795, 6865, 6935, 7005, 7075, 7145, 7215, 7300, 7455, 7525, 7595, 7665, 7735, 7805, 7875, 7945, 8015, 8075, 8175, 8245, 8315, 8385, 8455, 8525, 8595, 8665, 8750, 8935, 9005, 9075, 9145, 9215, 9285, 9360, 9465, 9535, 9605, 9675, 9745, 9830]
more_6750 = [35, 105, 170, 295, 365, 435, 505, 575, 645, 715, 785, 855, 925, 995, 1065, 1135, 1205, 1275, 1370, 1505, 1575, 1645, 1715, 1785, 1855, 1930, 2195, 2265, 2335, 2405, 2475, 2545, 2615, 2685, 2755, 2825, 2895, 2980, 3175, 3260, 3395, 3465, 3535, 3605, 3675, 3745, 3815, 3885, 3955, 4025, 4095, 4165, 4235, 4305, 4375, 4445, 4515, 4585, 4655, 4725, 4795, 4915, 4990, 5065, 5135, 5205, 5275, 5345, 5415, 5485, 5555, 5635, 5755, 5825, 5895, 5965, 6035, 6105, 6170, 6295, 6365, 6435, 6505, 6575, 6645, 6715, 6785, 6855, 6925, 7010, 7125, 7195, 7265, 7335, 7405, 7475, 7545, 7615, 7685, 7755, 7845, 7975, 8045, 8115, 8185, 8255, 8325, 8395, 8465, 8535, 8605, 8675, 8745, 8815, 8885, 8955, 9025, 9110, 9325, 9395, 9465, 9535, 9605, 9675, 9745, 9830]
more_6749 = [35, 105, 175, 245, 315, 385, 455, 525, 595, 665, 735, 885, 965, 1085, 1155, 1225, 1315, 1645, 1715, 1785, 1855, 1940, 2085, 2155, 2225, 2295, 2365, 2435, 2505, 2575, 2645, 2715, 2790, 3045, 3115, 3185, 3255, 3325, 3395, 3465, 3535, 3605, 3675, 3745, 3815, 3885, 3955, 4025, 4095, 4165, 4235, 4305, 4375, 4445, 4515, 4585, 4655, 4725, 4795, 4865, 4935, 5010, 5145, 5355, 5425, 5695, 5765, 5835, 5905, 5975, 6045, 6115, 6185, 6255, 6355, 6425, 6495, 6565, 6635, 6705, 6775, 6845, 6915, 6985, 7055, 7125, 7195, 7265, 7335, 7415, 7545, 7615, 7685, 7780, 8085, 8155, 8225, 8295, 8365, 8465, 8535, 8605, 8675, 8745, 8815, 8885, 8955, 9025, 9095, 9165, 9235, 9305, 9380, 9505, 9575, 9645, 9755, 9835]
more_6748 = [75, 145, 215, 285, 355, 525, 595, 660, 775, 845, 915, 985, 1055, 1125, 1195, 1270, 1385, 1455, 1765, 1835, 1905, 1975, 2165, 2235, 2385, 2455, 2525, 2610, 2775, 2845, 2915, 2985, 3055, 3125, 3195, 3305, 3375, 3445, 3515, 3585, 3655, 3765, 3835, 3905, 4000, 4125, 4325, 4565, 4635, 4705, 4775, 4845, 4915, 4990, 5065, 5135, 5205, 5335, 5405, 5475, 5545, 5615, 5685, 5755, 5825, 5895, 5985, 6275, 6345, 6415, 6485, 6555, 6620, 6685, 6845, 6915, 6985, 7060, 7175, 7245, 7315, 7385, 7455, 7525, 7855, 7925, 7995, 8065, 8135, 8205, 8290, 8505, 8575, 8645, 8720, 8925, 8995, 9065, 9135, 9205, 9275, 9345, 9415, 9485, 9555, 9625, 9695, 9765, 9845]
more_6746 = [35, 275, 345, 415, 485, 555, 625, 695, 765, 835, 905, 975, 1045, 1115, 1185, 1255, 1435, 1505, 1575, 1695, 1765, 1835, 1905, 1975, 2045, 2115, 2185, 2255, 2325, 2395, 2465, 2535, 2605, 2675, 2745, 2815, 2885, 2955, 3025, 3095, 3285, 3355, 3425, 3495, 3565, 3635, 3705, 3775, 3845, 3915, 3985, 4085, 4265, 4335, 4405, 4475, 4545, 4615, 4685, 4755, 4825, 4895, 4980, 5225, 5295, 5365, 5550, 5615, 5685, 5755, 5825, 5895, 5965, 6035, 6105, 6175, 6245, 6315, 6400, 6535, 6605, 6675, 6745, 6975, 7045, 7115, 7185, 7255, 7325, 7395, 7465, 7535, 7605, 7675, 7745, 7815, 7895, 8045, 8115, 8185, 8255, 8325, 8395, 8465, 8530, 8655, 8725, 8795, 8865, 8935, 9005, 9075, 9145, 9215, 9285, 9355, 9425, 9495, 9565, 9635, 9705, 9775, 9835]
more_6745 = [35, 105, 175, 245, 315, 435, 505, 575, 645, 715, 785, 855, 925, 995, 1065, 1135, 1205, 1275, 1345, 1415, 1485, 1555, 1705, 1775, 1845, 1915, 2075, 2145, 2215, 2285, 2355, 2425, 2495, 2565, 2635, 2705, 2775, 2845, 2915, 2985, 3075, 3225, 3455, 3525, 3595, 3665, 3735, 3805, 3875, 3945, 4015, 4085, 4155, 4225, 4295, 4365, 4435, 4505, 4575, 4645, 4715, 4810, 5075, 5145, 5215, 5285, 5355, 5425, 5495, 5565, 5635, 5705, 5775, 5845, 5915, 5985, 6055, 6125, 6195, 6265, 6335, 6405, 6475, 6545, 6615, 6685, 6755, 6835, 7115, 7185, 7255, 7325, 7395, 7465, 7535, 7605, 7675, 7745, 7815, 7885, 7955, 8025, 8110, 8225, 8295, 8365, 8435, 8505, 8575, 8645, 8730, 8900, 9055, 9125, 9255, 9325, 9395, 9465, 9535, 9605, 9700]
more_6756 = [95, 295, 365, 435, 505, 575, 645, 715, 785, 855, 1057, 1127, 1197, 1260, 1465, 1535, 1600, 1765, 1835, 1905, 1975, 2045, 2115, 2345, 2415, 2485, 2555, 2625, 2695, 2765, 2835, 2905, 2975, 3045, 3115, 3185, 3255, 3325, 3395, 3465, 3535, 3605, 3675, 3745, 3815, 3885, 3955, 4105, 4175, 4245, 4315, 4385, 4455, 4525, 4865, 4935, 4995, 5405, 5475, 5545, 5615, 5685, 5755, 5825, 5985, 6055, 6125, 6195, 6265, 6335, 6405, 6475, 6545, 6735, 6805, 6875, 6945, 7015, 7085, 7155, 7225, 7295, 7365, 7435, 7505, 7575, 7645, 7865, 7935, 8005, 8070, 8345, 8415, 8485, 8555, 8625, 8700, 9315, 9385, 9460]
more_6754 = [375, 445, 515, 585, 655, 730, 865, 935, 1005, 1075, 1145, 1215, 1285, 1515, 1585, 1655, 1725, 1795, 2115, 2185, 2255, 2325, 2395, 2465, 2535, 2605, 2675, 2745, 2815, 2885, 2955, 3025, 3095, 3165, 3235, 3305, 3375, 3445, 3515, 3585, 3655, 3725, 3795, 4235, 4305, 4375, 4445, 4515, 4745, 4815, 5255, 5325, 5395, 5465, 5535, 5605, 5675, 5745, 5885, 5955, 6025, 6095, 6165, 6235, 6305, 6825, 6895, 6965, 7035, 7105, 7795, 7865, 7935, 8005, 8075, 8145, 8215, 8285, 8655, 8725, 8795, 8865, 8935, 9005, 9335, 9405, 9475, 9545, 9735, 9805]

level_values = [6780, 6776, 6775, 6774, 6773, 6772, 6771, 6770, 6769, 6768, 6767, 6766, 6765, 6764, 6763, 6762, 6761, 6760,
                6759, 6758, 6757, 6756, 6755, 6754, 6753, 6752, 6751, 6750, 6749, 6748, 6747, 6746, 6745, 6744, 6743, 6742,
                6741, 6740, 6739, 6738, 6737, 6736, 6735, 6734, 6733, 6732, 6731, 6730, 6729, 6728, 6727, 6726, 6724, 6722,
                6721, 6720, 6719, 6718, 6751, 6750, 6749, 6748, 6746, 6745, 6756, 6754]
level_samples = [adc_6780, adc_6776, adc_6775, adc_6774, adc_6773, adc_6772, adc_6771, adc_6770, adc_6769, adc_6768, adc_6767,
                 adc_6766, adc_6765, adc_6764, adc_6763, adc_6762, adc_6761, adc_6760, adc_6759, adc_6758, adc_6757, adc_6756,
                 adc_6755, adc_6754, adc_6753, adc_6752, adc_6751, adc_6750, adc_6749, adc_6748, adc_6747, adc_6746, adc_6745,
                 adc_6744, adc_6743, adc_6742, adc_6741, adc_6740, adc_6739, adc_6738, adc_6737, adc_6736, adc_6735, adc_6734,
                 adc_6733, adc_6732, adc_6731, adc_6730, adc_6729, adc_6728, adc_6727, adc_6726, adc_6724, adc_6722, adc_6721,
                 adc_6720, adc_6719, adc_6718, more_6751, more_6750, more_6749, more_6748, more_6746, more_6745, more_6756, more_6754]

rows = [(s, v) for v, samples in zip(level_values, level_samples) for s in samples]
df = pd.DataFrame(rows, columns=["sample", "adc"])

fig, ax = plt.subplots(figsize=(10, 10), dpi=100)
sns.lineplot(data=df, x="sample", y="adc", estimator=None, sort=False, ax=ax,
             linestyle="", marker=".", color="black", markersize=6,
             markeredgecolor="black", markeredgewidth=1.0, label=legend_label)
ax.set_title(title)
ax.set_xlabel(xlabel)
ax.set_ylabel(ylabel)
ax.grid(True)
ax.set_xlim(-485, 10350)
ax.set_ylim(6714.9, 6783.16)
ax.set_xticks([0, 2000, 4000, 6000, 8000, 10000])
ax.legend(loc="upper right")
fig.subplots_adjust(left=0.0805, right=0.985, top=0.965, bottom=0.058)
fig.savefig("out.png", dpi=100)
